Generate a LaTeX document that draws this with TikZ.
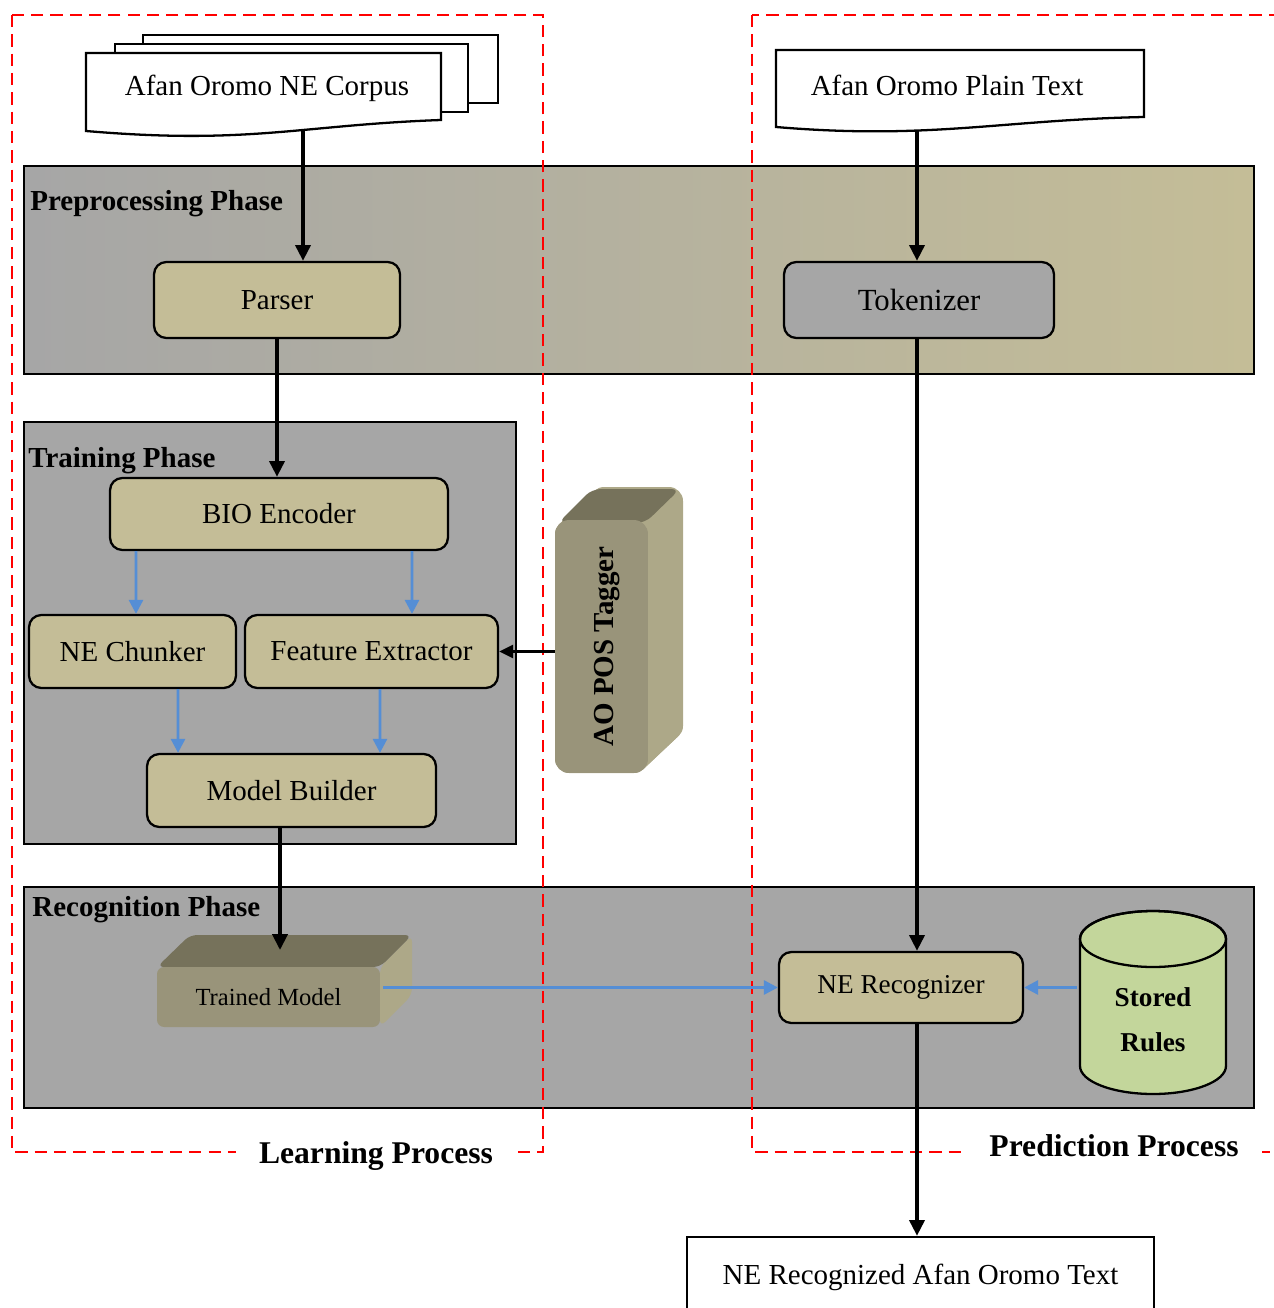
\documentclass[tikz,border=0pt]{standalone}
\usepackage{fontspec}
\setmainfont{Liberation Serif}
\usetikzlibrary{arrows.meta}

\definecolor{tanbox}{HTML}{C4BD97}
\definecolor{grayfill}{HTML}{A6A6A6}
\definecolor{aoblue}{HTML}{558ED5}
\definecolor{rulesgreen}{HTML}{C3D69B}
\definecolor{tagfront}{HTML}{99947A}
\definecolor{tagtop}{HTML}{76725B}
\definecolor{tagside}{HTML}{ADA888}

\begin{document}
\begin{tikzpicture}[x=0.02cm, y=-0.02cm,
  phase/.style={draw, line width=1.3pt},
  phasename/.style={anchor=west, inner sep=0pt, font=\fontsize{16.5}{20}\selectfont\bfseries},
  block/.style={draw, line width=1.3pt, rounded corners=7pt, fill=tanbox, inner sep=0pt, font=\fontsize{16.5}{20}\selectfont},
  doc/.style={draw, line width=1.3pt, fill=white},
  process/.style={draw=red, line width=1.1pt, dash pattern=on 7pt off 4pt},
  processname/.style={fill=white, inner xsep=0.46cm, inner ysep=2pt, font=\fontsize{18}{22}\selectfont\bfseries},
  flow/.style={line width=2.1pt, -{Triangle[length=9pt,width=8.5pt]}},
  flowk/.style={line width=1.4pt, -{Triangle[length=8pt,width=7.5pt]}},
  flowb/.style={draw=aoblue, line width=1.6pt, -{Triangle[length=8pt,width=8pt]}}]
\useasboundingbox (0,0) rectangle (1274,1308);

%% Phases
\path[phase, left color=grayfill, right color=tanbox] (24,166) rectangle (1254,374);
\draw[phase, fill=grayfill] (24,422) rectangle (516,844);
\draw[phase, fill=grayfill] (24,887) rectangle (1254,1108);
\node[phasename] (prename) at (30,204) {Preprocessing Phase};
\node[phasename] (trainname) at (28,461) {Training Phase};
\node[phasename] (recname) at (32,910) {Recognition Phase};

%% Learning / prediction process
\draw[process] (12,15) rectangle (543,1152);
\draw[process] (752,15) rectangle (1300,1152);
\node[processname] (learn) at (376,1156) {Learning Process};
\node[processname] (predict) at (1114,1146) {Prediction Process};

%% Input documents
\draw[doc] (143,35) rectangle (498,103);
\draw[doc] (115,44) rectangle (468,112);
\draw[doc] (86,53) -- (441,53) -- (441,120) .. controls (300,125) and (250,145) .. (86,131) -- cycle;
\node[font=\fontsize{16.5}{20}\selectfont] (corpus) at (267,88) {Afan Oromo NE Corpus};
\coordinate (corpusout) at (303,129);
\draw[doc] (776,50) -- (1144,50) -- (1144,117) .. controls (1000,120) and (930,140) .. (776,127) -- cycle;
\node[font=\fontsize{16.5}{20}\selectfont] (plain) at (947,85) {Afan Oromo Plain Text};
\coordinate (plainout) at (917,130);

%% Preprocessing
\node[block, minimum width=4.92cm, minimum height=1.52cm] (parser) at (277,300) {Parser};
\node[block, fill=grayfill, minimum width=5.4cm, minimum height=1.52cm, font=\fontsize{17.5}{21}\selectfont] (tok) at (919,300) {Tokenizer};

%% Training
\node[block, minimum width=6.76cm, minimum height=1.44cm] (bio) at (279,514) {BIO Encoder};
\node[block, minimum width=4.14cm, minimum height=1.46cm] (chunk) at (132.5,651.5) {NE Chunker};
\node[block, minimum width=5.06cm, minimum height=1.46cm] (feat) at (371.5,651.5) {Feature Extractor};
\node[block, minimum width=5.78cm, minimum height=1.46cm] (build) at (291.5,790.5) {Model Builder};

%% POS tagger box
\foreach \s in {0,0.05,...,1.01}
  \fill[tagside, rounded corners=8pt] (555+35*\s,520-33*\s) rectangle (648+35*\s,773-33*\s);
\fill[tagtop, rounded corners=5pt] (558,523) -- (592,489) -- (680,489) -- (645,523) -- cycle;
\node[fill=tagfront, rounded corners=8pt, minimum width=1.86cm, minimum height=5.06cm, inner sep=0pt] (tagger) at (601.5,646.5) {};
\node[rotate=90, inner sep=0pt, font=\fontsize{16.5}{20}\selectfont\bfseries] (tagname) at (607,646.5) {AO POS Tagger};

%% Recognition
\fill[tagside, rounded corners=4pt] (380,967) -- (412,935) -- (412,995) -- (380,1027) -- cycle;
\fill[tagtop, rounded corners=4pt] (157,967) -- (190,935) -- (412,935) -- (380,967) -- cycle;
\node[fill=tagfront, rounded corners=4pt, minimum width=4.46cm, minimum height=1.2cm, inner sep=0pt, font=\fontsize{14}{17}\selectfont] (trained) at (268.5,997) {Trained Model};
\coordinate (trainedtop) at (280,950);
\node[block, minimum width=4.88cm, minimum height=1.42cm, font=\fontsize{15.5}{19}\selectfont] (rec) at (901,987.5) {NE Recognizer};
\draw[line width=1.3pt, fill=rulesgreen] (1080,939) -- (1080,1066) arc[start angle=180, end angle=360, x radius=1.46cm, y radius=0.56cm] -- (1226,939) arc[start angle=0, end angle=180, x radius=1.46cm, y radius=0.56cm] -- cycle;
\draw[line width=1.3pt] (1153,939) ellipse [x radius=1.46cm, y radius=0.56cm];
\node[align=center, minimum width=2.92cm, inner sep=0pt, font=\fontsize{15.5}{25.6}\selectfont\bfseries] (rules) at (1153,1020) {Stored\\Rules};

%% Output
\node[draw, line width=1.3pt, fill=white, minimum width=9.34cm, minimum height=1.6cm, inner sep=0pt, font=\fontsize{16.5}{20}\selectfont] (out) at (920.5,1277) {NE Recognized Afan Oromo Text};

%% Arrows
\draw[flow] (corpusout) -- (parser.north -| corpusout);
\draw[flow] (parser.south) -- (parser.south |- bio.north);
\draw[flowb] ([xshift=-2.86cm]bio.south) -- ([xshift=0.07cm]chunk.north);
\draw[flowb] ([xshift=2.66cm]bio.south) -- ([xshift=0.81cm]feat.north);
\draw[flowb] ([xshift=0.91cm]chunk.south) -- ([xshift=-2.27cm]build.north);
\draw[flowb] ([xshift=0.17cm]feat.south) -- ([xshift=1.77cm]build.north);
\draw[flowk] (feat.east -| tagger.west) -- (feat.east);
\draw[flow] ([xshift=-0.23cm]build.south) -- (trainedtop);
\draw[flowb] ([xshift=0.06cm]trained.east |- rec.west) -- (rec.west);
\draw[flowb] ([xshift=-0.06cm]rules.west |- rec.east) -- (rec.east);
\draw[flow] (plainout) -- (tok.north -| plainout);
\draw[flow] (tok.south -| plainout) -- (rec.north -| plainout);
\draw[flow] (rec.south -| plainout) -- (out.north -| plainout);
\end{tikzpicture}
\end{document}
